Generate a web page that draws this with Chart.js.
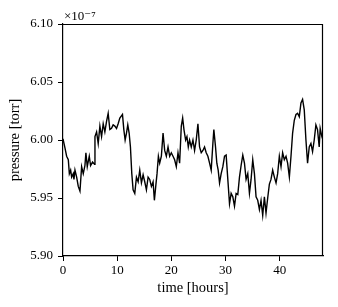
<!DOCTYPE html>
<html>
<head>
<meta charset="UTF-8">
<script src="https://cdn.jsdelivr.net/npm/chart.js"></script>
<style>
  html, body { margin: 0; padding: 0; background: #fff; }
  #wrap { width: 338px; height: 307px; }
</style>
</head>
<body>
<div id="wrap"><canvas id="c"></canvas></div>
<script>
// time in hours, pressure in units of 1e-7 torr
const hours = [0, 0.37, 0.67, 0.98, 1.17, 1.41, 1.60, 1.90, 2.02, 2.21, 2.52, 2.82, 3.13, 3.44, 3.74, 4.05, 4.23, 4.48, 4.85, 5.09, 5.46, 5.83,
  5.90, 6.20, 6.50, 6.81, 7.12, 7.42, 7.73, 8.04, 8.34, 8.65, 8.96, 9.26, 9.57, 9.88, 10.18, 10.49, 10.98, 11.23, 11.47, 11.72, 11.96,
  12.21, 12.45, 12.70, 12.94, 13.25, 13.56, 13.87, 14.17, 14.48, 14.79, 15.09, 15.40, 15.71, 16.01, 16.32, 16.63, 16.87, 17.12, 17.36,
  17.61, 17.85, 18.16, 18.47, 18.77, 19.08, 19.39, 19.69, 20.00, 20.31, 20.61, 20.92, 21.23, 21.53, 21.84, 22.09, 22.33, 22.64, 22.88,
  23.13, 23.37, 23.68, 23.99, 24.29, 24.60, 24.91, 25.21, 25.52, 25.83, 26.13, 26.44, 26.75, 27.06, 27.36, 27.67, 27.85, 28.16, 28.40,
  28.65, 28.90, 29.20, 29.51, 29.82, 30.12, 30.43, 30.74, 31.04, 31.35, 31.66, 31.96, 32.27, 32.58, 32.88, 33.19, 33.50, 33.80, 34.11,
  34.42, 34.72, 35.03, 35.34, 35.64, 35.95, 36.26, 36.56, 36.87, 37.18, 37.48, 37.79, 38.10, 38.40, 38.71, 39.02, 39.33, 39.63, 39.94,
  40.25, 40.55, 40.86, 41.17, 41.47, 41.79, 42.09, 42.39, 42.70, 43.01, 43.31, 43.62, 43.93, 44.23, 44.54, 44.85, 45.15, 45.46, 45.77,
  46.07, 46.38, 46.69, 46.99, 47.30, 47.48, 47.79, 48.0];
const pressure = [6.001, 5.993, 5.986, 5.983, 5.971, 5.974, 5.968, 5.971, 5.966, 5.974, 5.968, 5.960, 5.956, 5.977, 5.971, 5.978, 5.989, 5.977, 5.986, 5.978, 5.981, 5.979,
  6.003, 6.007, 5.997, 6.012, 6.003, 6.014, 6.007, 6.016, 6.023, 6.009, 6.010, 6.013, 6.012, 6.010, 6.014, 6.019, 6.022, 6.009, 6.000, 6.006, 6.013,
  6.006, 5.994, 5.971, 5.957, 5.954, 5.968, 5.964, 5.974, 5.963, 5.970, 5.964, 5.957, 5.968, 5.966, 5.960, 5.964, 5.948, 5.960, 5.971,
  5.986, 5.980, 5.986, 6.006, 5.991, 5.986, 5.994, 5.986, 5.989, 5.986, 5.983, 5.977, 5.989, 5.980, 6.012, 6.019, 6.009, 6.000, 6.003,
  5.994, 6.000, 5.994, 6.000, 5.991, 6.000, 6.014, 5.994, 5.989, 5.991, 5.994, 5.989, 5.986, 5.980, 5.974, 5.997, 6.009, 5.994, 5.980,
  5.974, 5.963, 5.971, 5.977, 5.986, 5.987, 5.966, 5.945, 5.954, 5.951, 5.943, 5.954, 5.953, 5.968, 5.978, 5.987, 5.980, 5.966, 5.971,
  5.954, 5.966, 5.983, 5.971, 5.951, 5.948, 5.940, 5.948, 5.935, 5.951, 5.937, 5.950, 5.962, 5.966, 5.974, 5.968, 5.963, 5.971, 5.986,
  5.977, 5.989, 5.983, 5.986, 5.980, 5.968, 5.986, 6.006, 6.017, 6.022, 6.023, 6.020, 6.032, 6.035, 6.026, 6.000, 5.980, 5.994, 5.997,
  5.990, 6.000, 6.013, 6.009, 5.994, 6.010, 6.003, 6.000];
const xTicks = [0, 10, 20, 30, 40];
const yTicks = [5.90, 5.95, 6.00, 6.05, 6.10];
const offsetText = '\u00d710\u207b\u2077';

const FONT = "'Liberation Serif', 'DejaVu Serif', serif";

// top/right spines + offset label
const framePlugin = {
  id: 'frame',
  afterDraw(chart) {
    const { ctx, chartArea: a } = chart;
    ctx.save();
    ctx.strokeStyle = '#000';
    ctx.lineWidth = 1.2;
    ctx.beginPath();
    ctx.moveTo(a.left, a.top + 0.5);
    ctx.lineTo(a.right - 0.5, a.top + 0.5);
    ctx.lineTo(a.right - 0.5, a.bottom);
    ctx.stroke();
    ctx.fillStyle = '#000';
    ctx.font = '13px ' + FONT;
    ctx.textBaseline = 'bottom';
    ctx.fillText(offsetText, a.left + 1, a.top - 1);
    ctx.restore();
  }
};

new Chart(document.getElementById('c'), {
  type: 'line',
  data: {
    datasets: [{
      data: hours.map((h, i) => ({ x: h, y: pressure[i] })),
      borderColor: '#000',
      borderWidth: 1.4,
      pointRadius: 0,
      tension: 0,
      fill: false
    }]
  },
  options: {
    responsive: true,
    maintainAspectRatio: false,
    animation: false,
    layout: { padding: { top: 24, right: 15, left: 0, bottom: 0 } },
    plugins: { legend: { display: false }, tooltip: { enabled: false } },
    scales: {
      x: {
        type: 'linear', min: 0, max: 48,
        afterFit: s => { s.height = 51; },
        afterBuildTicks: s => { s.ticks = xTicks.map(v => ({ value: v })); },
        grid: { drawOnChartArea: false, tickLength: 5, color: '#000' },
        border: { color: '#000', width: 1.2 },
        ticks: { color: '#000', font: { family: FONT, size: 13 }, padding: 2, maxRotation: 0 },
        title: { display: true, text: 'time [hours]', color: '#000', font: { family: FONT, size: 14.5 }, padding: { top: 0, bottom: 10 } }
      },
      y: {
        min: 5.90, max: 6.10,
        afterFit: s => { s.width = 63; },
        afterBuildTicks: s => { s.ticks = yTicks.map(v => ({ value: v })); },
        grid: { drawOnChartArea: false, tickLength: 5, color: '#000' },
        border: { color: '#000', width: 1.2 },
        ticks: { color: '#000', font: { family: FONT, size: 13 }, padding: 5, callback: v => v.toFixed(2) },
        title: { display: true, text: 'pressure [torr]', color: '#000', font: { family: FONT, size: 14.5 }, padding: { top: 6, bottom: 2 } }
      }
    }
  },
  plugins: [framePlugin]
});
</script>
</body>
</html>
